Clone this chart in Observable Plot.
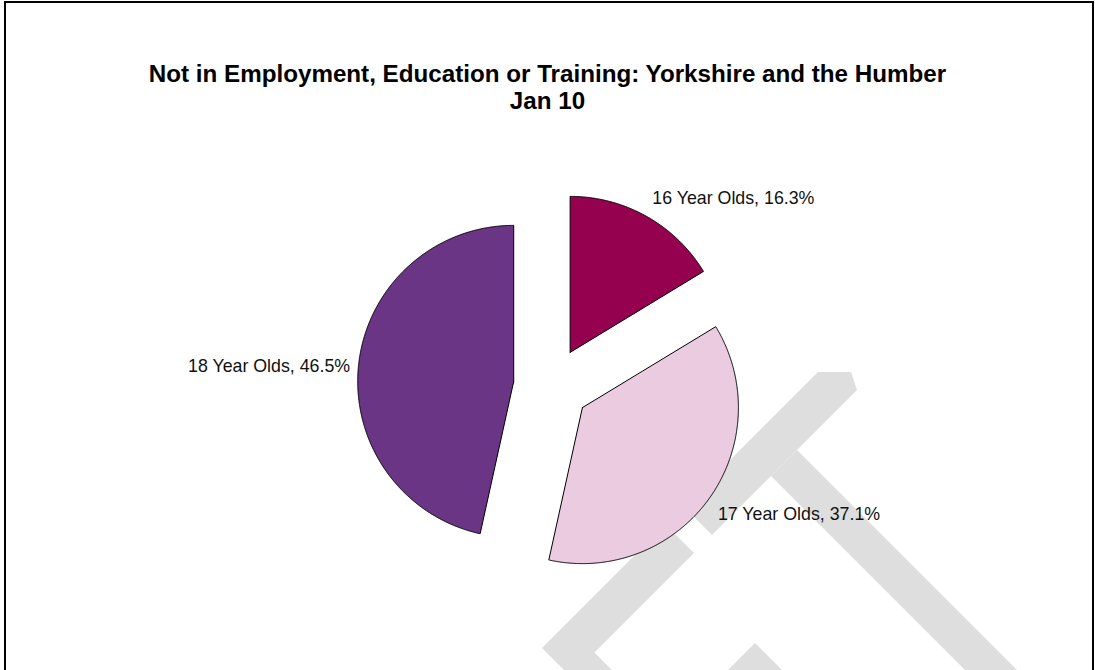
<!DOCTYPE html>
<html>
<head>
<meta charset="utf-8">
<script src="https://cdn.jsdelivr.net/npm/d3@7"></script>
<script src="https://cdn.jsdelivr.net/npm/@observablehq/plot@0.6"></script>
<style>
  html, body { margin: 0; padding: 0; background: #fff; }
  #page { position: relative; width: 1095px; height: 670px; overflow: hidden; background: #fff; }
  #frame { position: absolute; left: 4px; top: 1px; width: 1086px; height: 720px; border: 2px solid #000; box-sizing: content-box; }
  #watermark { position: absolute; left: 0; top: 0; }
  #title { position: absolute; left: 0; top: 60px; width: 1095px; text-align: center;
           font-family: "Liberation Sans", Arial, sans-serif; font-weight: bold; font-size: 24.2px; line-height: 27px; color: #000; }
  #chart { position: absolute; left: 0; top: 120px; }
</style>
</head>
<body>
<div id="page">
  <svg id="watermark" width="1095" height="670"></svg>
  <div id="frame"></div>
  <div id="title">Not in Employment, Education or Training: Yorkshire and the Humber<br>Jan 10</div>
  <div id="chart"></div>
</div>
<script>
// ---- data ----
const categories = ["16 Year Olds", "17 Year Olds", "18 Year Olds"];
const shares = [16.3, 37.1, 46.5];          // percent
const sliceColors = ["#95004F", "#EBCBE0", "#6B3586"];

// ---- layout (pixels) ----
const W = 1095, H = 550;            // svg size
const centerX = 551, centerY = 265; // pie centre inside svg
const radiusPx = 156;
const explode = 38 / radiusPx;      // explosion distance in radius units
const labelRadius = 1.1;
const labelNudge = { "16 Year Olds": [-2, -5], "17 Year Olds": [-4, 7], "18 Year Olds": [7, 3] };

// background watermark (decorative, page coordinates)
const watermarkShapes = [
  [[818,372],[851,372],[857,390],[712,535],[683.5,506.5]],
  [[665.5,524.5],[694,553],[594.5,652.5],[630.5,689],[583,689],[542,648]],
  [[797,450],[1040,693],[988,693],[771,476]],
  [[755,643],[805,693],[705,693]]
];
d3.select("#watermark").selectAll("polygon").data(watermarkShapes).join("polygon")
  .attr("points", d => d.map(p => p.join(",")).join(" "))
  .attr("fill", "#DEDEDE");

// ---- build slices ----
const data = categories.map((c, i) => ({ key: c, value: shares[i] }));
const arcs = d3.pie().sort(null).value(d => d.value)(data);

const slicePoints = [];
const labels = [];
arcs.forEach(a => {
  const mid = (a.startAngle + a.endAngle) / 2;
  const ox = explode * Math.sin(mid), oy = explode * Math.cos(mid);
  slicePoints.push({ key: a.data.key, x: ox, y: oy });
  const n = Math.max(8, Math.ceil((a.endAngle - a.startAngle) / 0.005));
  for (let i = 0; i <= n; i++) {
    const t = a.startAngle + (a.endAngle - a.startAngle) * i / n;
    slicePoints.push({ key: a.data.key, x: ox + Math.sin(t), y: oy + Math.cos(t) });
  }
  slicePoints.push({ key: a.data.key, x: ox, y: oy });
  labels.push({
    key: a.data.key,
    text: `${a.data.key}, ${a.data.value.toFixed(1)}%`,
    x: ox + labelRadius * Math.sin(mid),
    y: oy + labelRadius * Math.cos(mid),
    anchor: Math.sin(mid) >= 0 ? "start" : "end"
  });
});

const labelMarks = labels.map(l => Plot.text([l], {
  x: "x", y: "y", text: "text",
  textAnchor: l.anchor, lineAnchor: "middle",
  dx: labelNudge[l.key][0], dy: labelNudge[l.key][1],
  fill: "#111", fontSize: 17.8, fontFamily: "Liberation Sans, Arial, sans-serif"
}));

const chart = Plot.plot({
  width: W, height: H, margin: 0,
  x: { domain: [-centerX / radiusPx, (W - centerX) / radiusPx], axis: null },
  y: { domain: [-(H - centerY) / radiusPx, centerY / radiusPx], axis: null },
  color: { domain: categories, range: sliceColors },
  style: { background: "transparent", overflow: "visible" },
  marks: [
    Plot.line(slicePoints, { x: "x", y: "y", z: "key", fill: "key", stroke: "#000", strokeWidth: 1, strokeLinejoin: "miter", curve: "linear" }),
    ...labelMarks
  ]
});
document.getElementById("chart").appendChild(chart);
</script>
</body>
</html>
